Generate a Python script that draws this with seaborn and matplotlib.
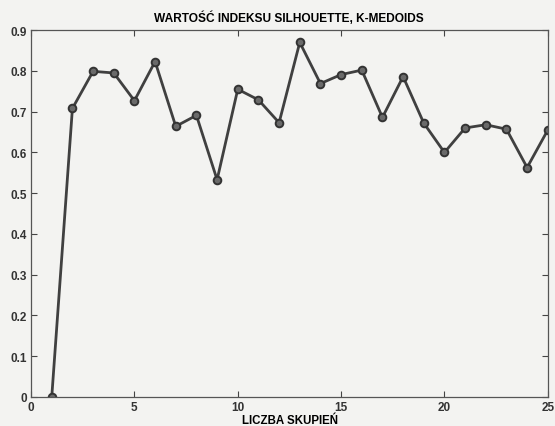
import matplotlib
matplotlib.use("Agg")
import matplotlib.pyplot as plt
import seaborn as sns
import pandas as pd

k_values = list(range(1, 26))
silhouette = [0.0, 0.708, 0.799, 0.795, 0.727, 0.823, 0.664, 0.691, 0.533, 0.755,
              0.729, 0.673, 0.870, 0.769, 0.791, 0.802, 0.686, 0.786, 0.672, 0.600,
              0.660, 0.668, 0.657, 0.563, 0.655]
x_ticks = [0, 5, 10, 15, 20, 25]
y_ticks = [0, 0.1, 0.2, 0.3, 0.4, 0.5, 0.6, 0.7, 0.8, 0.9]
y_ticklabels = ["0", "0.1", "0.2", "0.3", "0.4", "0.5", "0.6", "0.7", "0.8", "0.9"]
title = "WARTOŚĆ INDEKSU SILHOUETTE, K-MEDOIDS"
xlabel = "LICZBA SKUPIEŃ"

df = pd.DataFrame({"k": k_values, "s": silhouette})

sns.set_style("ticks")
plt.rcParams['font.family'] = ['Liberation Sans', 'DejaVu Sans']

fig = plt.figure(figsize=(5.55, 4.27), dpi=100, facecolor="#f3f3f1")
ax = fig.add_axes([0.056, 0.068, 0.931, 0.859])
ax.set_facecolor("#f3f3f1")

sns.lineplot(data=df, x="k", y="s", ax=ax, color="#404040", linewidth=2.0,
             marker="o", markersize=5.5, markerfacecolor="#6a6a6a",
             markeredgecolor="#333333", markeredgewidth=1.4)

ax.set_xlim(0, 25)
ax.set_ylim(0, 0.9)
ax.set_xticks(x_ticks)
ax.set_yticks(y_ticks)
ax.set_yticklabels(y_ticklabels)
ax.tick_params(direction="in", top=True, right=True, length=4, width=0.8,
               colors="#444444", labelsize=8.5, pad=3)
for lbl in ax.get_xticklabels() + ax.get_yticklabels():
    lbl.set_fontweight("bold")
    lbl.set_color("#333333")
for sp in ax.spines.values():
    sp.set_visible(True)
    sp.set_color("#555555")
    sp.set_linewidth(0.9)

ax.set_xlabel("")
ax.set_ylabel("")
fig.text(0.521, 0.958, title, ha="center", va="center", fontsize=8.6,
         fontweight="bold", color="black")
fig.text(0.522, 0.013, xlabel, ha="center", va="center", fontsize=8.3,
         fontweight="bold", color="black")

fig.savefig("out.png", dpi=100, facecolor=fig.get_facecolor())
